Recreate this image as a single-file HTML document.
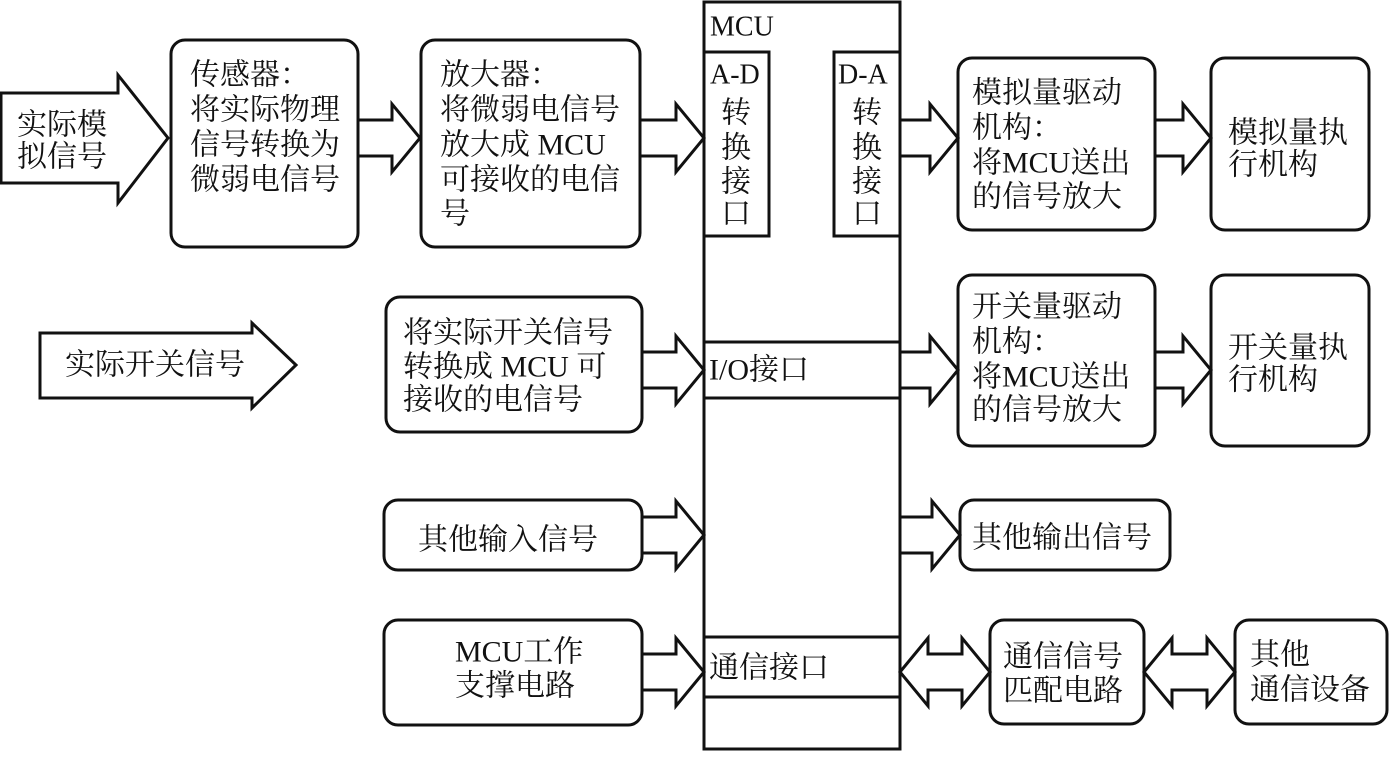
<!DOCTYPE html>
<html><head><meta charset="utf-8"><style>
html,body{margin:0;padding:0;background:#fff;}
svg text{font-family:"Liberation Serif","Noto Serif CJK SC",serif;font-size:30px;fill:#111;dominant-baseline:central;}
</style></head><body>
<svg width="1389" height="752" viewBox="0 0 1389 752" xmlns="http://www.w3.org/2000/svg">
<g fill="#fff" stroke="#111" stroke-width="3" stroke-linejoin="miter">
<!-- big arrows -->
<polygon points="1,93 118,93 118,75 168,138 118,203 118,183 1,183"/>
<polygon points="40,333 252,333 252,323 296,365 252,408 252,398 40,398"/>
<!-- MCU -->
<rect x="704" y="2" width="196" height="747"/>
<rect x="704" y="52" width="65" height="184"/>
<rect x="834" y="52" width="66" height="184"/>
<rect x="704" y="342" width="196" height="56"/>
<rect x="704" y="637" width="196" height="60"/>
<!-- rounded boxes -->
<rect x="171" y="40" width="187" height="207" rx="14"/>
<rect x="421" y="40" width="219" height="207" rx="14"/>
<rect x="386" y="297" width="256" height="135" rx="14"/>
<rect x="384" y="500" width="258" height="70" rx="14"/>
<rect x="384" y="620" width="258" height="105" rx="14"/>
<rect x="958" y="58" width="197" height="172" rx="14"/>
<rect x="1211" y="58" width="158" height="172" rx="14"/>
<rect x="958" y="275" width="197" height="171" rx="14"/>
<rect x="1211" y="275" width="158" height="171" rx="14"/>
<rect x="960" y="500" width="210" height="70" rx="14"/>
<rect x="990" y="620" width="154" height="104" rx="14"/>
<rect x="1235" y="620" width="152" height="104" rx="14"/>
<!-- small arrows -->
<polygon points="358,120 392,120 392,104 420,138 392,172 392,156 358,156"/>
<polygon points="640,120 676,120 676,104 704,138 676,172 676,156 640,156"/>
<polygon points="642,352 676,352 676,336 704,370 676,404 676,388 642,388"/>
<polygon points="642,517 676,517 676,501 704,535 676,569 676,553 642,553"/>
<polygon points="642,654 676,654 676,638 704,672 676,706 676,690 642,690"/>
<polygon points="900,120 930,120 930,104 958,138 930,172 930,156 900,156"/>
<polygon points="1155,120 1183,120 1183,104 1211,138 1183,172 1183,156 1155,156"/>
<polygon points="900,352 930,352 930,336 958,370 930,404 930,388 900,388"/>
<polygon points="1155,352 1183,352 1183,336 1211,370 1183,404 1183,388 1155,388"/>
<polygon points="900,517 932,517 932,501 960,535 932,569 932,553 900,553"/>
<polygon points="900,672 928,638 928,654 962,654 962,638 990,672 962,706 962,690 928,690 928,706"/>
<polygon points="1144,672 1172,638 1172,654 1207,654 1207,638 1235,672 1207,706 1207,690 1172,690 1172,706"/>
</g>
<text x="17" y="125">实际模</text><text x="17" y="157">拟信号</text>
<text x="190" y="75">传感器：</text><text x="190" y="110">将实际物理</text><text x="190" y="145">信号转换为</text><text x="190" y="180">微弱电信号</text>
<text x="440" y="75">放大器：</text><text x="440" y="110">将微弱电信号</text><text x="440" y="145">放大成 MCU</text><text x="440" y="180">可接收的电信</text><text x="440" y="214">号</text>
<text x="65" y="365">实际开关信号</text>
<text x="403" y="333">将实际开关信号</text><text x="403" y="367">转换成 MCU 可</text><text x="403" y="400">接收的电信号</text>
<text x="418" y="540">其他输入信号</text>
<text x="455" y="652">MCU工作</text><text x="455" y="686">支撑电路</text>
<text x="710" y="27" style="font-size:28px">MCU</text>
<text x="710" y="75" style="font-size:28px">A-D</text>
<text x="721" y="113">转</text><text x="721" y="148">换</text><text x="721" y="182">接</text><text x="721" y="214">口</text>
<text x="838" y="75" style="font-size:28px">D-A</text>
<text x="852" y="113">转</text><text x="852" y="148">换</text><text x="852" y="182">接</text><text x="852" y="214">口</text>
<text x="709" y="370">I/O接口</text>
<text x="709" y="668">通信接口</text>
<text x="972" y="93">模拟量驱动</text><text x="972" y="128">机构：</text><text x="972" y="163">将MCU送出</text><text x="972" y="197">的信号放大</text>
<text x="1228" y="133">模拟量执</text><text x="1228" y="165">行机构</text>
<text x="972" y="307">开关量驱动</text><text x="972" y="342">机构：</text><text x="972" y="377">将MCU送出</text><text x="972" y="410">的信号放大</text>
<text x="1228" y="348">开关量执</text><text x="1228" y="380">行机构</text>
<text x="972" y="538">其他输出信号</text>
<text x="1003" y="657">通信信号</text><text x="1003" y="691">匹配电路</text>
<text x="1250" y="655">其他</text><text x="1250" y="690">通信设备</text>
</svg>
</body></html>
